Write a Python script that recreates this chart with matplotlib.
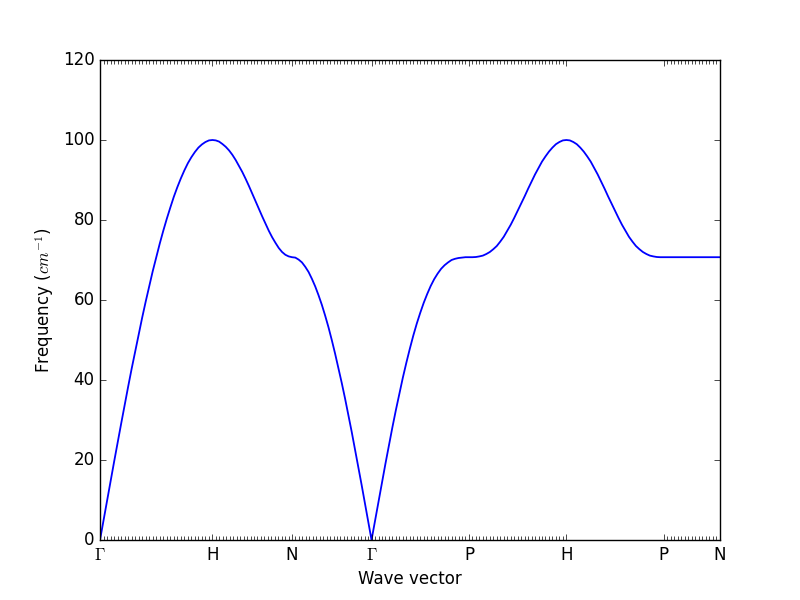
import numpy as np
import matplotlib
matplotlib.use("Agg")
import matplotlib.pyplot as plt

plt.style.use("classic")

# High-symmetry path labels and segment lengths (units of 2*pi/a)
labels = [r"$\Gamma$", "H", "N", r"$\Gamma$", "P", "H", "P", "N"]
seg_len = [1.0, 0.7071, 0.7071, 0.8660, 0.8660, 0.8660, 0.5]
# whether each segment carries q-point minor ticks
seg_ticks = [True, True, True, True, True, False, True]

# Frequencies (cm^-1) read along each segment
f_GH = [0.0, 4.9, 9.8, 14.7, 19.5, 24.3, 29.0, 33.7, 38.3, 42.8, 47.1,
        51.4, 55.6, 59.6, 63.4, 67.2, 70.7, 74.1, 77.3, 80.3, 83.1, 85.8,
        88.2, 90.4, 92.4, 94.2, 95.7, 97.0, 98.1, 98.9, 99.5, 99.9, 100.0]
f_HN = [100.0, 99.9, 99.6, 99.0, 98.3, 97.4, 96.3, 95.0, 93.5, 92.0, 90.3,
        88.5, 86.6, 84.7, 82.8, 80.9, 79.1, 77.3, 75.7, 74.3, 73.0, 72.0,
        71.3, 70.9, 70.7]
f_NG = [70.7, 70.6, 70.1, 69.4, 68.3, 67.0, 65.3, 63.4, 61.2, 58.8, 56.1,
        53.2, 50.0, 46.6, 43.0, 39.3, 35.4, 31.3, 27.1, 22.7, 18.3, 13.8,
        9.2, 4.6, 0.0]
f_GP = [0.0, 4.8, 9.7, 14.5, 19.1, 23.7, 28.2, 32.5, 36.6, 40.6, 44.3,
        47.8, 51.1, 54.1, 56.8, 59.3, 61.5, 63.5, 65.2, 66.6, 67.8, 68.7,
        69.4, 70.0, 70.3, 70.5, 70.6, 70.7, 70.7]
f_PH = [70.7, 70.7, 70.75, 70.9, 71.1, 71.5, 72.0, 72.7, 73.5, 74.6, 75.8,
        77.3, 78.8, 80.5, 82.3, 84.1, 85.9, 87.8, 89.6, 91.4, 93.0, 94.6,
        95.9, 97.1, 98.1, 98.95, 99.5, 99.9, 100.0]
f_HP = [100.0, 99.9, 99.5, 98.95, 98.1, 97.1, 95.9, 94.6, 93.0, 91.4, 89.6,
        87.8, 85.9, 84.1, 82.3, 80.5, 78.8, 77.3, 75.8, 74.6, 73.5, 72.7,
        72.0, 71.5, 71.1, 70.9, 70.75, 70.7, 70.7]
f_PN = [70.7, 70.7, 70.7, 70.7, 70.7, 70.7, 70.7, 70.7, 70.7, 70.7, 70.7,
        70.7, 70.7, 70.7, 70.7, 70.7, 70.7]
segments = [f_GH, f_HN, f_NG, f_GP, f_PH, f_HP, f_PN]

fig, ax = plt.subplots(figsize=(8, 6), dpi=100)
fig.patch.set_facecolor("white")

bounds = np.concatenate([[0.0], np.cumsum(seg_len)])
xs, ys = [], []
minor = []
for k, f in enumerate(segments):
    x = np.linspace(bounds[k], bounds[k + 1], len(f))
    xs.append(x)
    ys.append(np.array(f))
    if seg_ticks[k]:
        n = int(round(seg_len[k] * 32))
        minor.extend(np.linspace(bounds[k], bounds[k + 1], n + 1))
x_all = np.concatenate(xs)
y_all = np.concatenate(ys)
ax.plot(x_all, y_all, color="b", lw=1.3)

ax.set_xlim(bounds[0], bounds[-1])
ax.set_ylim(0, 120)
ax.set_xticks(bounds)
ax.set_xticklabels(labels)
ax.set_xticks(minor, minor=True)
ax.set_yticks(np.arange(0, 121, 20))
ax.tick_params(axis="x", which="minor", length=3)
ax.set_xlabel("Wave vector")
ax.set_ylabel(r"Frequency ($cm^{-1}$)")

fig.savefig("out.png", dpi=100, facecolor="white")
